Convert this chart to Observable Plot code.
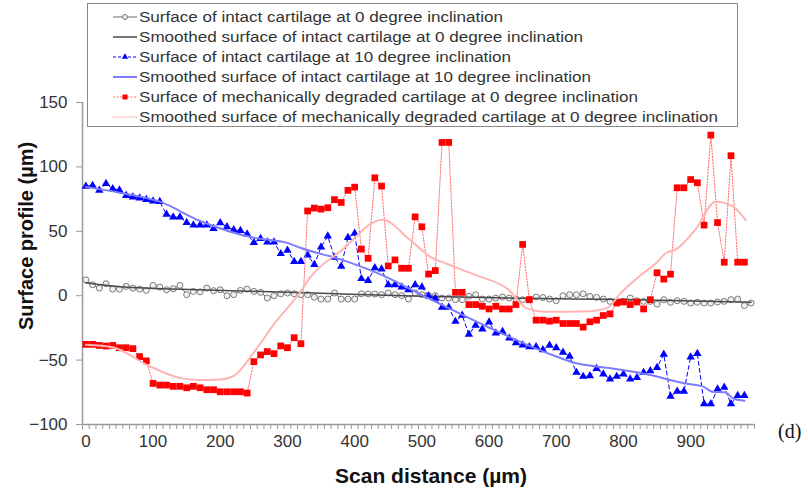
<!DOCTYPE html>
<html><head><meta charset="utf-8">
<script src="https://cdn.jsdelivr.net/npm/d3@7"></script>
<script src="https://cdn.jsdelivr.net/npm/@observablehq/plot@0.6"></script>
<style>body{margin:0;background:#fff}#chart{width:808px;height:495px}</style>
</head><body><div id="chart"></div>
<script>
// Scan distance step (µm) between samples (category axis)
const scanStep = 10;
// Surface of intact cartilage at 0 degree inclination (µm), 0..990 µm
const intact0 = [12.3,8.5,5.9,9.3,5.1,5.1,7.2,5.9,5.1,4.1, 8,6.7,4.6,5.4,8,0.8,3.3,3,5.9,3.9,
 4.6,0,0.8,4.1,5.1,3.3,2.6,-1.8,0,1.5, 2.1,1.5,0.8,0.8,-1.2,-2.6,-2.6,2.1,-2.6,-2.6,
 -2.6,1.5,1.3,1.3,0.8,2.1,0.8,0,-2.6,2.1, 0.8,0.2,0,-1.8,-1.8,-3.1,-3.1,-0.5,0.8,-2.6,
 -2.6,-1.8,-1,-1.8,-2.6,-3.1,-2.6,-1,-1.4,-2.6, -3.9,0,0.8,0.8,1.5,-0.5,-1.3,-2.6,-4.4,-5.1,
 -4.4,-1.8,-3.9,-4.4,-4.4,-6.5,-3.1,-5.1,-3.9,-4.4, -5.7,-5.1,-5.7,-5.7,-4.9,-4.4,-3.1,-2.6,-7.7,-5.7];
// Surface of intact cartilage at 10 degree inclination (µm), 0..980 µm
const intact10 = [85,85.6,81.8,87,83,82,77.7,76.6,75.8,74.7, 73.4,73,63.2,61,61,56.8,54.8,54.8,54.8,52.2,
 56.6,53.5,51.2,50.5,47.8,41.2,44.3,41.6,41.6,32.6, 35.3,26.5,26.5,31.6,24.2,37.8,46.2,29.7,22.8,45.1,
 48.5,13.2,11.8,21.6,20.6,8.5,8.5,6.7,4.6,8.5, 6.7,-0.3,-2,-9,-9,-20,-15.3,-30,-23,-26,
 -20.5,-29,-27.8,-33,-36.6,-38.3,-39.7,-39.7,-42,-38.5, -40.4,-44,-47,-59.6,-62.7,-62.2,-56.6,-60.9,-64.8,-62.7,
 -60.9,-64.8,-63.5,-59.6,-58.4,-55.8,-45.5,-78.1,-74.3,-74.3, -47.6,-45,-84,-84,-72.5,-71.2,-84,-77.6,-77.6];
// Surface of mechanically degraded cartilage at 0 degree inclination (µm), 0..980 µm
const degraded0 = [-37.8,-37.8,-38.6,-39.1,-38.6,-40.4,-40.4,-41.1,-47.3,-50.6, -68.1,-69.4,-69.4,-70.4,-70.4,-71.5,-70.4,-71.5,-73,-73,
 -74.6,-74.6,-74.6,-74.6,-75.6,-51.2,-46,-43.4,-45,-39, -40.4,-32.6,-37.3,65.8,68,67.2,68.3,74.6,72.4,81.8,
 84.3,36.2,29,91.5,85.1,23.1,27.8,21.3,21.3,61.2, 53.5,16.8,19.5,119,119,2.6,2.6,-6.9,-6.9,-8.2,
 -10.3,-8.2,-10.3,-10.3,-6.9,39.8,-3.1,-19,-19,-19.8, -19,-21.6,-21.6,-21.6,-24.4,-20.3,-19,-15.4,-14.1,-5.7,
 -4.9,-6.9,-4.9,-10.3,-3.1,17.8,12.9,16.7,83.8,83.8, 90.2,87.7,54.8,124.7,56.8,26,108.7,26,26];
// Smoothed curves (read at distinct distances)
const smoothIntact0X = [0,50,180,340,500,650,800,990];
const smoothIntact0Y = [10,7,4.5,2,-0.5,-2,-3,-5];
const smoothIntact10X = [0,50,110,170,250,300,320,380,434,510,595,684,727,776,826,897,918,932,951,964,980];
const smoothIntact10Y = [84.5,80,73,58,45,41,37,28,17.5,-2,-23.5,-44,-52,-56,-60,-68.6,-70.4,-74.5,-75,-80,-81.5];
const smoothDegradedX = [0,40,92,141,170,200,221,250,283,315,335,380,441,483,513,536,580,629,655,684,752,776,796,826,848,863,878,908,937,962,982];
const smoothDegradedY = [-38,-40,-54,-64,-65.5,-65,-62,-44,-20,0,15,35,59,43,30,25,16,4.6,-9.5,-12.5,-12,-9.5,2,16,25,33,36,52,73,69.5,58.6];
// Axis ticks and texts
const xTickLabels = [0,100,200,300,400,500,600,700,800,900];
const yTicks = [-100,-50,0,50,100,150];
const legendLabels = [
 "Surface of intact cartilage at 0 degree inclination",
 "Smoothed surface of intact cartilage at 0 degree inclination",
 "Surface of intact cartilage at 10 degree inclination",
 "Smoothed surface of intact cartilage at 10 degree inclination",
 "Surface of mechanically degraded cartilage at 0 degree inclination",
 "Smoothed surface of mechanically degraded cartilage at 0 degree inclination"];
const xTitle = "Scan distance (µm)";
const yTitle = "Surface profile (µm)";
const panelTag = "(d)";

const pts = vals => vals.map((v, i) => ({x: i * scanStep, y: v}));
const zipXY = (xs, ys) => xs.map((x, i) => ({x, y: ys[i]}));
const g0 = pts(intact0), b10 = pts(intact10), r0 = pts(degraded0);
const gS = zipXY(smoothIntact0X, smoothIntact0Y);
const bS = zipXY(smoothIntact10X, smoothIntact10Y);
const rS = zipXY(smoothDegradedX, smoothDegradedY);
const xMin = -scanStep / 2, xMax = 990 + scanStep / 2;
const catBounds = d3.range(0, 101).map(k => xMin + k * scanStep);

const C = {gray: "#666", grayDot: "#7a7a7a", graySm: "#4a4a4a", blue: "#0000ff", blueSm: "#7c7cff", red: "#ff0000", redLine: "#ff7070", pink: "#ffb4b4", axis: "#9a9a9a"};
const FONT = "Liberation Sans, Arial, sans-serif";

const chart = Plot.plot({
  width: 808, height: 495,
  marginLeft: 82, marginRight: 54, marginTop: 102, marginBottom: 71,
  x: {domain: [xMin, xMax]},
  y: {domain: [-100, 150]},
  style: {fontFamily: FONT, fontSize: "17px", background: "#fff", color: "#333"},
  marks: [
    Plot.axisY({ticks: yTicks, tickSize: 6, tickPadding: 9, stroke: C.axis, fill: "#333", label: null, fontSize: 17}),
    Plot.axisX({ticks: catBounds, tickSize: 5, tickFormat: () => "", stroke: C.axis, label: null}),
    Plot.axisX({ticks: xTickLabels, tickSize: 0, tickPadding: 10, fill: "#333", label: null, fontSize: 17}),
    Plot.ruleX([xMin], {stroke: C.axis, strokeWidth: 1.5}),
    Plot.ruleY([-100], {stroke: C.axis, strokeWidth: 1.5}),
    Plot.line(g0, {x: "x", y: "y", stroke: C.gray, strokeWidth: 1}),
    Plot.dot(g0, {x: "x", y: "y", r: 3, stroke: C.grayDot, fill: "#f2f2f2", strokeWidth: 1}),
    Plot.line(gS, {x: "x", y: "y", stroke: C.graySm, strokeWidth: 1.5, curve: "monotone-x"}),
    Plot.line(b10, {x: "x", y: "y", stroke: C.blue, strokeWidth: 1, strokeDasharray: "4,3"}),
    Plot.dot(b10, {x: "x", y: "y", r: 3.1, symbol: "triangle", fill: C.blue}),
    Plot.line(bS, {x: "x", y: "y", stroke: C.blueSm, strokeWidth: 2, curve: "monotone-x"}),
    Plot.line(r0, {x: "x", y: "y", stroke: C.redLine, strokeWidth: 1, strokeDasharray: "1.5,1.5"}),
    Plot.dot(r0, {x: "x", y: "y", r: 3.8, symbol: "square", fill: C.red}),
    Plot.line(rS, {x: "x", y: "y", stroke: C.pink, strokeWidth: 2, curve: "monotone-x"})
  ]
});
document.getElementById("chart").appendChild(chart);

const svg = d3.select(chart);
// axis titles
svg.append("text").attr("x", 431).attr("y", 483).attr("text-anchor", "middle")
  .attr("font-family", FONT).attr("font-weight", "bold").attr("font-size", 21)
  .attr("fill", "#111").text(xTitle);
svg.append("text").attr("transform", "translate(33,236) rotate(-90)").attr("text-anchor", "middle")
  .attr("font-family", FONT).attr("font-weight", "bold").attr("font-size", 20)
  .attr("fill", "#111").text(yTitle);
svg.append("text").attr("x", 778).attr("y", 438).attr("text-anchor", "start")
  .attr("font-family", "Liberation Serif, Times New Roman, serif").attr("font-size", 20)
  .attr("fill", "#111").text(panelTag);

// legend
const lg = svg.append("g");
lg.append("rect").attr("x", 87.5).attr("y", 3.5).attr("width", 650).attr("height", 123)
  .attr("fill", "#fff").attr("stroke", "#888");
const rowY = i => 17 + i * 20;
const sx0 = 113, sx1 = 137, sxm = 125;
const legendTextEnds = [503, 583, 511, 591, 638, 718];
const styles = [
  {stroke: C.gray, w: 1, dash: null, sym: "circle"},
  {stroke: C.graySm, w: 1.5, dash: null},
  {stroke: C.blue, w: 1, dash: "3,2", sym: "triangle"},
  {stroke: C.blueSm, w: 2, dash: null},
  {stroke: C.redLine, w: 1.2, dash: "2,1.5", sym: "square"},
  {stroke: C.pink, w: 1.5, dash: "1.5,1"}
];
styles.forEach((s, i) => {
  const y = rowY(i);
  lg.append("line").attr("x1", sx0).attr("x2", sx1).attr("y1", y).attr("y2", y)
    .attr("stroke", s.stroke).attr("stroke-width", s.w).attr("stroke-dasharray", s.dash);
  if (s.sym === "circle") lg.append("circle").attr("cx", sxm).attr("cy", y).attr("r", 2.5).attr("fill", "#f2f2f2").attr("stroke", C.grayDot);
  if (s.sym === "triangle") lg.append("path").attr("transform", `translate(${sxm},${y})`).attr("d", d3.symbol(d3.symbolTriangle, 18)()).attr("fill", C.blue);
  if (s.sym === "square") lg.append("rect").attr("x", sxm - 2.5).attr("y", y - 2.5).attr("width", 5).attr("height", 5).attr("fill", C.red);
  lg.append("text").attr("x", 139).attr("y", y + 5.3).attr("text-anchor", "start")
    .attr("font-family", FONT).attr("font-size", 15.5).attr("fill", "#333")
    .attr("textLength", legendTextEnds[i] - 139).attr("lengthAdjust", "spacingAndGlyphs")
    .text(legendLabels[i]);
});
</script></body></html>
